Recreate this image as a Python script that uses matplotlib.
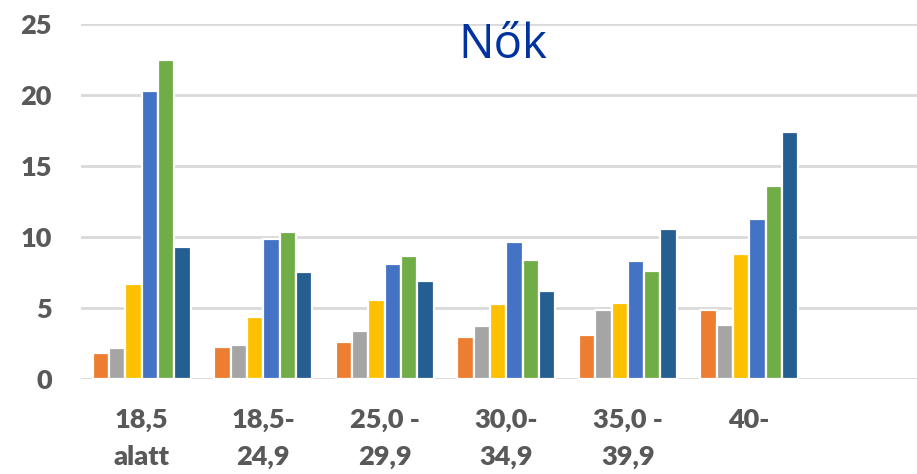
import matplotlib.pyplot as plt
import numpy as np

categories = ["18,5\nalatt", "18,5-\n24,9", "25,0 -\n29,9", "30,0-\n34,9", "35,0 -\n39,9", "40-", ""]
s1 = [1.85, 2.3, 2.6, 2.95, 3.1, 4.9]
s2 = [2.2, 2.4, 3.4, 3.75, 4.85, 3.8]
s3 = [6.7, 4.35, 5.55, 5.3, 5.35, 8.85]
s4 = [20.3, 9.9, 8.1, 9.7, 8.3, 11.3]
s5 = [22.5, 10.4, 8.7, 8.4, 7.6, 13.6]
s6 = [9.3, 7.55, 6.9, 6.2, 10.55, 17.4]
series = [s1, s2, s3, s4, s5, s6]
colors = ["#ED7D31", "#A5A5A5", "#FFC000", "#4472C4", "#70AD47", "#255E91"]

fig = plt.figure(figsize=(9.17, 4.74), dpi=100)
ax = fig.add_axes([0.0883, 0.2, 0.9117, 0.7487])

x = np.arange(len(s1))
step = 0.134
for i, (vals, c) in enumerate(zip(series, colors)):
    ax.bar(x + (i - 2.5) * step, vals, width=step, color=c,
           edgecolor="white", linewidth=1.6, zorder=3)

ax.set_ylim(0, 25)
ax.set_xlim(-0.5, 6.38)
ax.set_yticks([0, 5, 10, 15, 20, 25])
ax.set_xticks(np.arange(len(categories)))
ax.set_xticklabels(categories, linespacing=1.62)
ax.yaxis.grid(True, color="#D9D9D9", linewidth=2, zorder=0)
for sp in ax.spines.values():
    sp.set_visible(False)
ax.tick_params(axis="both", length=0)
ax.tick_params(axis="y", pad=21, labelsize=19.5, labelcolor="#595959")
ax.tick_params(axis="x", pad=21, labelsize=19.5, labelcolor="#595959")
for t in ax.get_yticklabels():
    t.set_fontfamily(["Lato", "DejaVu Sans"])
    t.set_fontweight("heavy")
for t in ax.get_xticklabels():
    t.set_fontfamily(["Lato", "DejaVu Sans"])
    t.set_fontweight("heavy")
    t.set_verticalalignment("top")

ax.text(2.97, 22.63, "Nők", ha="center", va="baseline",
        fontsize=34, color="#0033A0", family=["Open Sans", "DejaVu Sans"])

fig.savefig("out.png", dpi=100)
